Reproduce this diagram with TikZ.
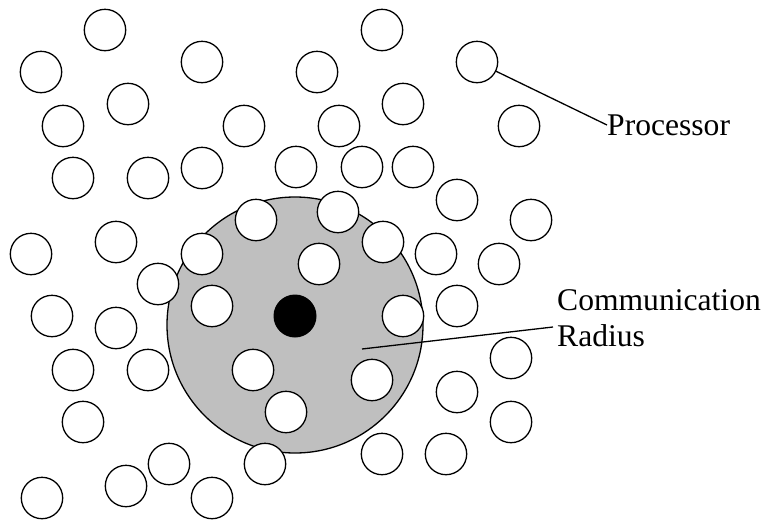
\documentclass[tikz,border=0pt]{standalone}
\usepackage{fontspec}
\setmainfont{Liberation Serif}
\begin{document}
\begin{tikzpicture}[x=1pt,y=-1pt,
  proc/.style={circle,draw=black,fill=white,line width=1.3pt,minimum size=41.4pt,inner sep=0pt},
  commzone/.style={circle,draw=black,fill=gray!50!white,line width=1.3pt,minimum size=256pt,inner sep=0pt},
  hub/.style={circle,fill=black,minimum size=43pt,inner sep=0pt},
  lbl/.style={font=\fontsize{31.6}{36.3}\selectfont,inner sep=0pt,align=left},
  lead/.style={line width=1.3pt}]
\useasboundingbox (0,0) rectangle (764,520);
\node[commzone] (zone) at (295,325) {};
\node[hub] (hub) at (295,316) {};
\foreach \n/\x/\y in {
  a1/105/30, a2/382/30,
  b1/41/72, b2/202/62, b3/317/72, b4/477/62,
  c1/128/104, c2/403/104, c3/519/126,
  d1/63/126, d2/244/126, d3/339/126,
  e1/73/178, e2/148/178, e3/202/168, e4/296/167, e5/362/167, e6/413/167,
  f1/457/200, f2/531/220, f3/256/220, f4/338/212,
  g1/31/254, g2/116/242, g3/202/254, g4/383/242, g5/436/254, g6/499/264, g7/319/264,
  h1/158/284, h2/212/306, h3/403/316, h4/457/306,
  i1/52/316, i2/116/328,
  j1/73/370, j2/148/370, j3/253/370, j4/372/380, j5/511/358,
  k1/83/422, k2/286/412, k3/457/392, k4/511/422,
  l1/169/464, l2/265/464, l3/382/454, l4/446/454,
  m1/42/498, m2/126/486, m3/212/498}
  \node[proc] (\n) at (\x,\y) {};
\node[lbl,anchor=west] (plab) at (607,125) {Processor};
\draw[lead] (b4) -- (plab.west);
\node[lbl,anchor=north west] (clab) at (557,289) {Communication\\Radius};
\coordinate (cstart) at (362,349);
\coordinate (cend) at (553,327);
\draw[lead] (cstart) -- (cend);
\end{tikzpicture}
\end{document}
